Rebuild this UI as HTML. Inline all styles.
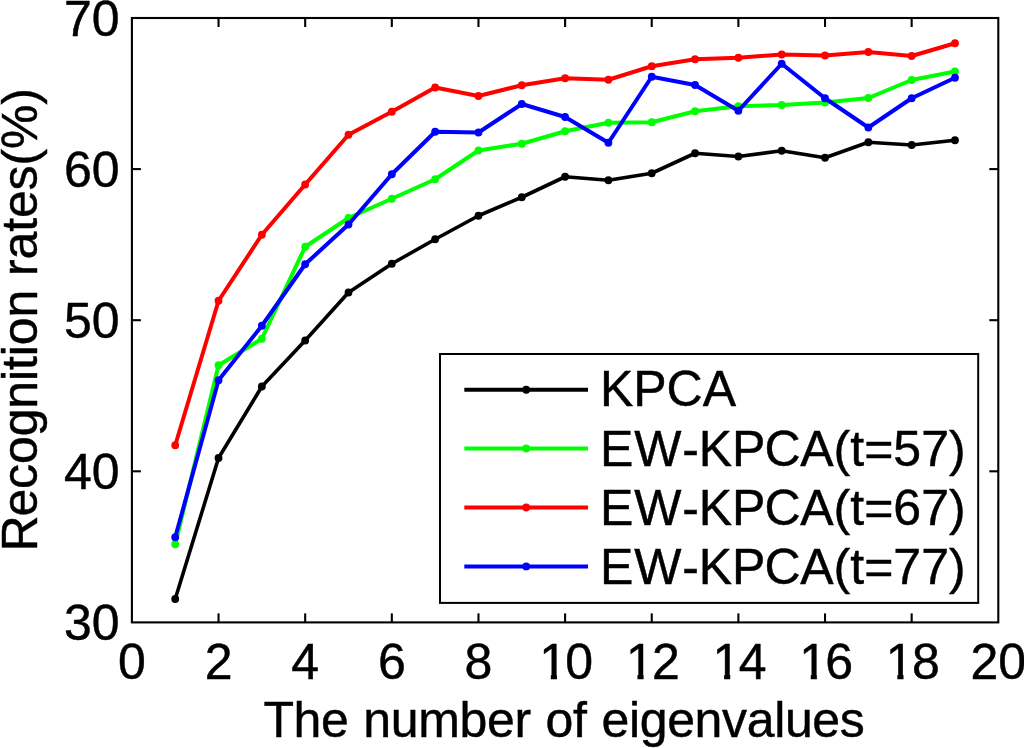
<!DOCTYPE html>
<html lang="en"><head><meta charset="utf-8"><title>Recognition rates</title>
<style>
html,body{margin:0;padding:0;background:#fff;}
body{width:1024px;height:748px;overflow:hidden;}
svg{display:block;}
text{font-family:"Liberation Sans",Arial,Helvetica,sans-serif;fill:#000;stroke:#000;stroke-width:0.45px;font-kerning:none;font-variant-ligatures:none;}
</style></head><body>
<svg width="1024" height="748" viewBox="0 0 1024 748">
<rect width="1024" height="748" fill="#fff"/>
<g stroke="#000000" fill="#000000"><polyline points="175.22,599.00 218.54,458.00 261.86,386.50 305.18,340.50 348.50,292.50 391.82,263.75 435.14,239.25 478.46,215.75 521.78,197.25 565.10,176.75 608.42,180.25 651.74,173.25 695.06,153.25 738.38,156.50 781.70,150.75 825.02,157.75 868.34,142.25 911.66,145.00 954.98,140.25" fill="none" stroke-width="3.60" stroke-linejoin="round" stroke-linecap="round"/><circle cx="175.22" cy="599.00" r="3.90" stroke="none"/><circle cx="218.54" cy="458.00" r="3.90" stroke="none"/><circle cx="261.86" cy="386.50" r="3.90" stroke="none"/><circle cx="305.18" cy="340.50" r="3.90" stroke="none"/><circle cx="348.50" cy="292.50" r="3.90" stroke="none"/><circle cx="391.82" cy="263.75" r="3.90" stroke="none"/><circle cx="435.14" cy="239.25" r="3.90" stroke="none"/><circle cx="478.46" cy="215.75" r="3.90" stroke="none"/><circle cx="521.78" cy="197.25" r="3.90" stroke="none"/><circle cx="565.10" cy="176.75" r="3.90" stroke="none"/><circle cx="608.42" cy="180.25" r="3.90" stroke="none"/><circle cx="651.74" cy="173.25" r="3.90" stroke="none"/><circle cx="695.06" cy="153.25" r="3.90" stroke="none"/><circle cx="738.38" cy="156.50" r="3.90" stroke="none"/><circle cx="781.70" cy="150.75" r="3.90" stroke="none"/><circle cx="825.02" cy="157.75" r="3.90" stroke="none"/><circle cx="868.34" cy="142.25" r="3.90" stroke="none"/><circle cx="911.66" cy="145.00" r="3.90" stroke="none"/><circle cx="954.98" cy="140.25" r="3.90" stroke="none"/></g>
<g stroke="#00ff00" fill="#00ff00"><polyline points="175.22,544.25 218.54,365.25 261.86,338.75 305.18,246.75 348.50,218.00 391.82,198.75 435.14,179.25 478.46,150.50 521.78,143.75 565.10,131.25 608.42,122.75 651.74,122.25 695.06,111.25 738.38,106.25 781.70,105.00 825.02,102.50 868.34,98.00 911.66,80.00 954.98,71.50" fill="none" stroke-width="4.00" stroke-linejoin="round" stroke-linecap="round"/><circle cx="175.22" cy="544.25" r="3.90" stroke="none"/><circle cx="218.54" cy="365.25" r="3.90" stroke="none"/><circle cx="261.86" cy="338.75" r="3.90" stroke="none"/><circle cx="305.18" cy="246.75" r="3.90" stroke="none"/><circle cx="348.50" cy="218.00" r="3.90" stroke="none"/><circle cx="391.82" cy="198.75" r="3.90" stroke="none"/><circle cx="435.14" cy="179.25" r="3.90" stroke="none"/><circle cx="478.46" cy="150.50" r="3.90" stroke="none"/><circle cx="521.78" cy="143.75" r="3.90" stroke="none"/><circle cx="565.10" cy="131.25" r="3.90" stroke="none"/><circle cx="608.42" cy="122.75" r="3.90" stroke="none"/><circle cx="651.74" cy="122.25" r="3.90" stroke="none"/><circle cx="695.06" cy="111.25" r="3.90" stroke="none"/><circle cx="738.38" cy="106.25" r="3.90" stroke="none"/><circle cx="781.70" cy="105.00" r="3.90" stroke="none"/><circle cx="825.02" cy="102.50" r="3.90" stroke="none"/><circle cx="868.34" cy="98.00" r="3.90" stroke="none"/><circle cx="911.66" cy="80.00" r="3.90" stroke="none"/><circle cx="954.98" cy="71.50" r="3.90" stroke="none"/></g>
<g stroke="#ff0000" fill="#ff0000"><polyline points="175.22,445.25 218.54,300.75 261.86,234.75 305.18,184.50 348.50,134.75 391.82,111.75 435.14,87.50 478.46,96.00 521.78,85.25 565.10,78.25 608.42,79.75 651.74,66.25 695.06,59.25 738.38,57.75 781.70,54.50 825.02,55.50 868.34,52.00 911.66,56.00 954.98,43.25" fill="none" stroke-width="4.00" stroke-linejoin="round" stroke-linecap="round"/><circle cx="175.22" cy="445.25" r="3.90" stroke="none"/><circle cx="218.54" cy="300.75" r="3.90" stroke="none"/><circle cx="261.86" cy="234.75" r="3.90" stroke="none"/><circle cx="305.18" cy="184.50" r="3.90" stroke="none"/><circle cx="348.50" cy="134.75" r="3.90" stroke="none"/><circle cx="391.82" cy="111.75" r="3.90" stroke="none"/><circle cx="435.14" cy="87.50" r="3.90" stroke="none"/><circle cx="478.46" cy="96.00" r="3.90" stroke="none"/><circle cx="521.78" cy="85.25" r="3.90" stroke="none"/><circle cx="565.10" cy="78.25" r="3.90" stroke="none"/><circle cx="608.42" cy="79.75" r="3.90" stroke="none"/><circle cx="651.74" cy="66.25" r="3.90" stroke="none"/><circle cx="695.06" cy="59.25" r="3.90" stroke="none"/><circle cx="738.38" cy="57.75" r="3.90" stroke="none"/><circle cx="781.70" cy="54.50" r="3.90" stroke="none"/><circle cx="825.02" cy="55.50" r="3.90" stroke="none"/><circle cx="868.34" cy="52.00" r="3.90" stroke="none"/><circle cx="911.66" cy="56.00" r="3.90" stroke="none"/><circle cx="954.98" cy="43.25" r="3.90" stroke="none"/></g>
<g stroke="#0000ff" fill="#0000ff"><polyline points="175.22,537.25 218.54,380.25 261.86,325.75 305.18,264.25 348.50,224.50 391.82,174.25 435.14,131.75 478.46,132.50 521.78,104.00 565.10,117.00 608.42,142.75 651.74,76.75 695.06,85.00 738.38,110.75 781.70,63.75 825.02,98.25 868.34,127.50 911.66,98.25 954.98,77.75" fill="none" stroke-width="4.00" stroke-linejoin="round" stroke-linecap="round"/><circle cx="175.22" cy="537.25" r="3.90" stroke="none"/><circle cx="218.54" cy="380.25" r="3.90" stroke="none"/><circle cx="261.86" cy="325.75" r="3.90" stroke="none"/><circle cx="305.18" cy="264.25" r="3.90" stroke="none"/><circle cx="348.50" cy="224.50" r="3.90" stroke="none"/><circle cx="391.82" cy="174.25" r="3.90" stroke="none"/><circle cx="435.14" cy="131.75" r="3.90" stroke="none"/><circle cx="478.46" cy="132.50" r="3.90" stroke="none"/><circle cx="521.78" cy="104.00" r="3.90" stroke="none"/><circle cx="565.10" cy="117.00" r="3.90" stroke="none"/><circle cx="608.42" cy="142.75" r="3.90" stroke="none"/><circle cx="651.74" cy="76.75" r="3.90" stroke="none"/><circle cx="695.06" cy="85.00" r="3.90" stroke="none"/><circle cx="738.38" cy="110.75" r="3.90" stroke="none"/><circle cx="781.70" cy="63.75" r="3.90" stroke="none"/><circle cx="825.02" cy="98.25" r="3.90" stroke="none"/><circle cx="868.34" cy="127.50" r="3.90" stroke="none"/><circle cx="911.66" cy="98.25" r="3.90" stroke="none"/><circle cx="954.98" cy="77.75" r="3.90" stroke="none"/></g>
<g stroke="#000" stroke-width="2.10" fill="none" stroke-linecap="butt">
<rect x="131.90" y="18.00" width="866.40" height="604.40"/>
<line x1="218.54" y1="622.40" x2="218.54" y2="613.40"/>
<line x1="218.54" y1="18.00" x2="218.54" y2="27.00"/>
<line x1="305.18" y1="622.40" x2="305.18" y2="613.40"/>
<line x1="305.18" y1="18.00" x2="305.18" y2="27.00"/>
<line x1="391.82" y1="622.40" x2="391.82" y2="613.40"/>
<line x1="391.82" y1="18.00" x2="391.82" y2="27.00"/>
<line x1="478.46" y1="622.40" x2="478.46" y2="613.40"/>
<line x1="478.46" y1="18.00" x2="478.46" y2="27.00"/>
<line x1="565.10" y1="622.40" x2="565.10" y2="613.40"/>
<line x1="565.10" y1="18.00" x2="565.10" y2="27.00"/>
<line x1="651.74" y1="622.40" x2="651.74" y2="613.40"/>
<line x1="651.74" y1="18.00" x2="651.74" y2="27.00"/>
<line x1="738.38" y1="622.40" x2="738.38" y2="613.40"/>
<line x1="738.38" y1="18.00" x2="738.38" y2="27.00"/>
<line x1="825.02" y1="622.40" x2="825.02" y2="613.40"/>
<line x1="825.02" y1="18.00" x2="825.02" y2="27.00"/>
<line x1="911.66" y1="622.40" x2="911.66" y2="613.40"/>
<line x1="911.66" y1="18.00" x2="911.66" y2="27.00"/>
<line x1="131.90" y1="471.30" x2="140.90" y2="471.30"/>
<line x1="998.30" y1="471.30" x2="989.30" y2="471.30"/>
<line x1="131.90" y1="320.20" x2="140.90" y2="320.20"/>
<line x1="998.30" y1="320.20" x2="989.30" y2="320.20"/>
<line x1="131.90" y1="169.10" x2="140.90" y2="169.10"/>
<line x1="998.30" y1="169.10" x2="989.30" y2="169.10"/>
</g>
<g font-size="50">
<text x="131.90" y="678.6" text-anchor="middle">0</text>
<text x="218.54" y="678.6" text-anchor="middle">2</text>
<text x="305.18" y="678.6" text-anchor="middle">4</text>
<text x="391.82" y="678.6" text-anchor="middle">6</text>
<text x="478.46" y="678.6" text-anchor="middle">8</text>
<clipPath id="c10" clipPathUnits="userSpaceOnUse"><rect x="529.29" y="630" width="80" height="44.2"/><rect x="550.84" y="674" width="6.1" height="12"/><rect x="565.79" y="674" width="45" height="12"/></clipPath>
<text x="565.10" y="678.6" text-anchor="middle" dx="1.1 -1.7" clip-path="url(#c10)">10</text>
<clipPath id="c12" clipPathUnits="userSpaceOnUse"><rect x="615.93" y="630" width="80" height="44.2"/><rect x="637.48" y="674" width="6.1" height="12"/><rect x="652.43" y="674" width="45" height="12"/></clipPath>
<text x="651.74" y="678.6" text-anchor="middle" dx="1.1 -1.7" clip-path="url(#c12)">12</text>
<clipPath id="c14" clipPathUnits="userSpaceOnUse"><rect x="702.57" y="630" width="80" height="44.2"/><rect x="724.12" y="674" width="6.1" height="12"/><rect x="739.07" y="674" width="45" height="12"/></clipPath>
<text x="738.38" y="678.6" text-anchor="middle" dx="1.1 -1.7" clip-path="url(#c14)">14</text>
<clipPath id="c16" clipPathUnits="userSpaceOnUse"><rect x="789.21" y="630" width="80" height="44.2"/><rect x="810.76" y="674" width="6.1" height="12"/><rect x="825.71" y="674" width="45" height="12"/></clipPath>
<text x="825.02" y="678.6" text-anchor="middle" dx="1.1 -1.7" clip-path="url(#c16)">16</text>
<clipPath id="c18" clipPathUnits="userSpaceOnUse"><rect x="875.85" y="630" width="80" height="44.2"/><rect x="897.40" y="674" width="6.1" height="12"/><rect x="912.35" y="674" width="45" height="12"/></clipPath>
<text x="911.66" y="678.6" text-anchor="middle" dx="1.1 -1.7" clip-path="url(#c18)">18</text>
<text x="998.30" y="678.6" text-anchor="middle">20</text>
<text x="119.5" y="640.40" text-anchor="end">30</text>
<text x="119.5" y="489.30" text-anchor="end">40</text>
<text x="119.5" y="338.20" text-anchor="end">50</text>
<text x="119.5" y="187.10" text-anchor="end">60</text>
<text x="119.5" y="36.00" text-anchor="end">70</text>
<text x="263.4" y="737.3" style="letter-spacing:-0.35px;word-spacing:1.3px">The number of eigenvalues</text>
<text transform="translate(37.0,551.5) rotate(-90)" style="letter-spacing:-0.12px" dx="0 -1.1">Recognition rates(%)</text>
</g>
<rect x="440.00" y="354.00" width="538.20" height="248.90" fill="#fff" stroke="#000" stroke-width="2"/>
<g font-size="50">
<line x1="464.3" y1="389.75" x2="588" y2="389.75" stroke="#000000" stroke-width="4.0"/>
<circle cx="526.2" cy="389.75" r="3.9" fill="#000000"/>
<text x="599.9" y="406.35">KPCA</text>
<line x1="464.3" y1="448.50" x2="588" y2="448.50" stroke="#00ff00" stroke-width="4.0"/>
<circle cx="526.2" cy="448.50" r="3.9" fill="#00ff00"/>
<text x="600.1" y="466.30" dx="0 0.8 0.9 -0.3 0 -0.9 -0.4">EW-KPCA(t=57)</text>
<line x1="464.3" y1="507.50" x2="588" y2="507.50" stroke="#ff0000" stroke-width="4.0"/>
<circle cx="526.2" cy="507.50" r="3.9" fill="#ff0000"/>
<text x="600.1" y="525.30" dx="0 0.8 0.9 -0.3 0 -0.9 -0.4">EW-KPCA(t=67)</text>
<line x1="464.3" y1="566.40" x2="588" y2="566.40" stroke="#0000ff" stroke-width="4.0"/>
<circle cx="526.2" cy="566.40" r="3.9" fill="#0000ff"/>
<text x="600.1" y="584.20" dx="0 0.8 0.9 -0.3 0 -0.9 -0.4">EW-KPCA(t=77)</text>
</g>
</svg></body></html>
